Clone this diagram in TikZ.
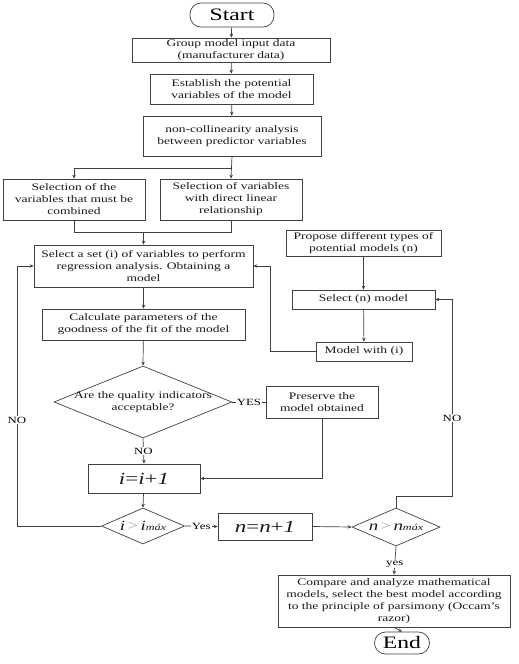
\documentclass[tikz,border=0pt]{standalone}
\usepackage{fontspec}
\setmainfont{Liberation Serif}[FakeStretch=1.35]
\usetikzlibrary{shapes.geometric,arrows.meta,calc}
\begin{document}
\begin{tikzpicture}[x=1pt,y=-1pt,
  every node/.style={font=\fontsize{10}{12}\selectfont},
  box/.style={draw=black!75,line width=0.7pt,rectangle,align=center,inner sep=1pt,text=black!90},
  term/.style={draw=black!75,line width=0.7pt,rectangle,rounded corners=11pt,inner sep=1pt,font=\fontsize{17.5}{19}\selectfont},
  dia/.style={draw=black!75,line width=0.7pt,diamond,inner sep=0pt},
  conn/.style={draw=black!75,line width=0.7pt},
  arr/.style={conn,-{Stealth[length=4pt,width=3.5pt]}},
  lbl/.style={fill=white,inner sep=1pt,font=\fontsize{9.5}{11}\selectfont}]
\useasboundingbox (0,0) rectangle (519,664);
% nodes
\node[term,minimum width=84pt,minimum height=24pt] (start) at (232,15) {Start};
\node[box,minimum width=198pt,minimum height=24pt] (group) at (231,50) {Group model input data\\(manufacturer data)};
\node[box,minimum width=163pt,minimum height=30pt] (estab) at (231.5,89) {Establish the potential\\variables of the model};
\node[box,minimum width=178pt,minimum height=40pt] (noncol) at (232,136) {non-collinearity analysis\\between predictor variables};
\node[box,minimum width=142pt,minimum height=41pt] (selL) at (74,199.5) {Selection of the\\variables that must be\\combined};
\node[box,minimum width=142pt,minimum height=41pt] (selR) at (231,199.5) {Selection of variables\\with direct linear\\relationship};
\node[box,minimum width=219pt,minimum height=42pt] (selset) at (143.5,266) {Select a set (i) of variables to perform\\regression analysis. Obtaining a\\model};
\node[box,minimum width=203pt,minimum height=31pt] (calc) at (143.5,324.5) {Calculate parameters of the\\goodness of the fit of the model};
\node[dia,minimum width=178pt,minimum height=72pt] (qual) at (143,402) {};
\node[align=center,text=black!90] (qualtxt) at (143,402) {Are the quality indicators\\acceptable?};
\node[box,minimum width=112pt,minimum height=32pt] (pres) at (322,402) {Preserve the\\model obtained};
\node[box,minimum width=112pt,minimum height=29pt,font=\fontsize{17}{19}\selectfont] (inc) at (144,478.5) {\textit{i}=\textit{i}+\textit{1}};
\node[dia,minimum width=83pt,minimum height=36pt] (imax) at (143,526) {};
\node[text=black!90] (imaxtxt) at (143,526) {\fontsize{14}{16}\selectfont\textit{i}\,\textcolor{black!35}{>}\,\textit{i}{\fontsize{9}{10}\selectfont\textit{máx}}};
\node[box,minimum width=94pt,minimum height=27pt,font=\fontsize{17}{19}\selectfont] (nn) at (265,526.5) {\textit{n}=\textit{n}+\textit{1}};
\node[dia,minimum width=88pt,minimum height=38pt] (nmax) at (396,527) {};
\node[text=black!90] (nmaxtxt) at (396,527) {\fontsize{14}{16}\selectfont\textit{n}\,\textcolor{black!35}{>}\,\textit{n}{\fontsize{9}{10}\selectfont\textit{máx}}};
\node[box,minimum width=232pt,minimum height=52pt] (comp) at (394,601) {Compare and analyze mathematical\\models, select the best model according\\to the principle of parsimony (Occam's\\razor)};
\node[term,minimum width=55pt,minimum height=22pt] (end) at (402,643) {End};
\node[box,minimum width=155pt,minimum height=26pt] (prop) at (363.5,243) {Propose different types of\\potential models (n)};
\node[box,minimum width=143pt,minimum height=19pt] (seln) at (363.5,299.5) {Select (n) model};
\node[box,minimum width=96pt,minimum height=19pt] (modi) at (364,351.5) {Model with (i)};
% coordinates
\coordinate (split) at (232,168);
\coordinate (join) at (143.5,232);
\coordinate (lx) at (17,0);
\coordinate (rx) at (270,0);
\coordinate (nx) at (452,496);
% connectors
\draw[arr] (start) -- (group);
\draw[arr] (group) -- (estab);
\draw[arr] (estab) -- (noncol);
\draw[arr] (noncol.south) -- (selR.north);
\draw[arr] (split) -| (selL.north);
\draw[conn] (selL.south) |- (join);
\draw[conn] (selR.south) |- (join);
\draw[arr] (join) -- (selset.north);
\draw[arr] (selset) -- (calc);
\draw[arr] (calc) -- (qual.north);
\draw[conn] (qual.east) -- node[lbl]{YES} (pres.west);
\draw[arr] (qual.south) -- node[lbl]{NO} (inc.north);
\draw[arr] (pres.south) |- (inc.east);
\draw[arr] (inc) -- (imax.north);
\draw[arr] (imax.east) -- node[lbl]{Yes} (nn.west);
\draw[arr] (nn.east) -- (nmax.west);
\draw[arr] (nmax.south) -- node[lbl,pos=0.62]{yes} (comp.north);
\draw[arr] (comp.south) -- (end.north);
\draw[arr] (imax.west) -| (lx |- selset.west) -- (selset.west);
\node[lbl] (nol) at (17,420) {NO};
\draw[arr] (prop) -- (seln);
\draw[arr] (seln) -- (modi);
\draw[arr] (modi.west) -| (rx |- selset.east) -- (selset.east);
\draw[arr] (nmax.north) |- (nx) -- (nx |- seln.east) -- (seln.east);
\node[lbl] (nor) at (452,418) {NO};
\end{tikzpicture}
\end{document}
